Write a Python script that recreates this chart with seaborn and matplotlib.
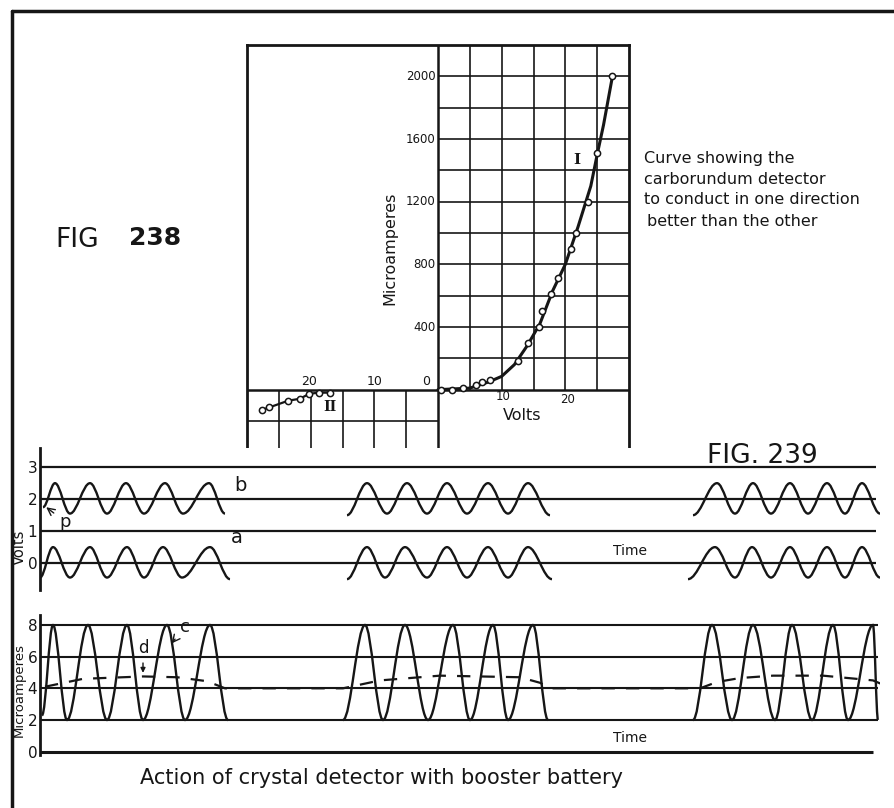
import matplotlib
matplotlib.use('Agg')
import matplotlib.pyplot as plt
import seaborn as sns
from matplotlib.path import Path
from matplotlib.patches import PathPatch
from matplotlib.lines import Line2D

# ---- Fig 238: carborundum detector characteristic ----
# curve I (forward), drawn line
curve1_volts = [0, 5, 8, 10, 12, 14, 16, 18, 20, 22, 24, 25, 26, 27.4]
curve1_amps = [0, 10, 50, 85, 160, 280, 420, 630, 800, 1040, 1300, 1500, 1690, 2000]
# measured points on curve I
pts1_volts = [0.4, 2.2, 3.9, 5.9, 6.9, 8.2, 12.5, 14.2, 15.9, 16.4, 17.7, 18.9, 20.9, 21.7, 23.5, 25.0, 27.4]
pts1_amps = [0, 0, 10, 30, 50, 60, 180, 300, 400, 500, 610, 710, 900, 1000, 1200, 1510, 2000]
# curve II (reverse)
curve2_volts = [-27.6, -26.5, -23.5, -21.7, -20.2, -18.7, -17.0]
curve2_amps = [-128, -113, -70, -58, -26, -19, -19]
amp_ticks = [400, 800, 1200, 1600, 2000]

# ---- Fig 239: booster battery waveforms (time in arbitrary units) ----
b_time = [[3, 15, 30, 50, 67, 86, 104, 125, 143, 169, 185],
          [307, 327, 347, 367, 387, 407, 427, 448, 468, 488, 510],
          [653, 677, 695, 713, 731, 750, 768, 787, 805, 822, 840]]
b_volts = [[1.75, 2.5, 1.55, 2.5, 1.55, 2.5, 1.55, 2.5, 1.55, 2.5, 1.55],
           [1.5, 2.5, 1.55, 2.5, 1.55, 2.5, 1.55, 2.5, 1.55, 2.5, 1.5],
           [1.5, 2.5, 1.55, 2.5, 1.55, 2.5, 1.55, 2.5, 1.55, 2.5, 1.55]]
a_time = [[0, 13, 30, 50, 67, 87, 104, 123, 142, 170, 190],
          [307, 327, 345, 365, 387, 407, 427, 448, 468, 488, 512],
          [648, 675, 695, 712, 731, 750, 768, 787, 805, 822, 840]]
a_volts = [[-0.45, 0.5, -0.45, 0.5, -0.45, 0.5, -0.45, 0.5, -0.45, 0.5, -0.5],
           [-0.5, 0.5, -0.45, 0.5, -0.45, 0.5, -0.45, 0.5, -0.45, 0.5, -0.5],
           [-0.5, 0.5, -0.45, 0.5, -0.45, 0.5, -0.45, 0.5, -0.45, 0.5, -0.45]]
c_time = [[2, 13, 27, 48, 67, 87, 103, 127, 145, 170, 188],
          [303, 325, 343, 365, 388, 413, 430, 453, 468, 493, 508],
          [653, 672, 692, 713, 735, 752, 772, 793, 808, 833, 838]]
c_amps = [[2.3, 8, 2, 8, 2, 8, 2, 8, 2, 8, 2],
          [2, 8, 2, 8, 2, 8, 2, 8, 2, 8, 2],
          [2, 8, 2, 8, 2, 8, 2, 8, 2, 8, 2]]
d_time = [5, 43, 103, 137, 167, 185, 303, 340, 400, 480, 500, 510,
          660, 677, 700, 733, 783, 833, 848]
d_amps = [4.1, 4.6, 4.75, 4.7, 4.45, 4.0, 4.0, 4.5, 4.8, 4.7, 4.35, 4.0,
          4.0, 4.4, 4.65, 4.8, 4.8, 4.5, 4.1]

note_lines = ['Curve showing the', 'carborundum detector',
              'to conduct in one direction', 'better than the other']

INK = '#161616'
W, H = 894, 808


def fx(x):
    return x / W


def fy(y):
    return 1 - y / H


def wave(ax, t, v, k=0.36, lw=1.7):
    # smooth hand-drawn style curve through the extreme points
    verts = [(t[0], v[0])]
    codes = [Path.MOVETO]
    for i in range(1, len(t)):
        dt = t[i] - t[i - 1]
        verts += [(t[i - 1] + k * dt, v[i - 1]), (t[i] - k * dt, v[i]), (t[i], v[i])]
        codes += [Path.CURVE4] * 3
    ax.add_patch(PathPatch(Path(verts, codes), fill=False, edgecolor=INK, lw=lw, zorder=4))


sns.set_style('white')
plt.rcParams['font.family'] = ['DejaVu Sans']

fig = plt.figure(figsize=(8.94, 8.08), dpi=100)

# outer frame of the plate
fig.add_artist(Line2D([fx(12), 1], [fy(11), fy(11)], color=INK, lw=2.5))
fig.add_artist(Line2D([fx(12), fx(12)], [fy(11), 0], color=INK, lw=2.5))

# ---------------- top chart ----------------
ax1 = fig.add_axes([fx(247), fy(450), 382 / W, 405 / H])
ax1.set_xlim(-30, 30)
ax1.set_ylim(-385, 2200)
ax1.set_xticks([])
ax1.set_yticks([])
for s in ax1.spines.values():
    s.set_linewidth(2)
    s.set_color(INK)

for v in range(5, 30, 5):
    ax1.vlines(v, 0, 2200, color=INK, lw=1.2)
for i in range(200, 2200, 200):
    ax1.hlines(i, 0, 30, color=INK, lw=1.2)
for v in range(-25, 0, 5):
    ax1.vlines(v, -385, 0, color=INK, lw=1.2)
ax1.hlines(-200, -30, 0, color=INK, lw=1.2)
ax1.hlines(0, -30, 30, color=INK, lw=1.8)
ax1.vlines(0, -385, 2200, color=INK, lw=1.8)

sns.lineplot(x=curve1_volts, y=curve1_amps, ax=ax1, color=INK, lw=2.2, sort=False, zorder=3)
sns.scatterplot(x=pts1_volts, y=pts1_amps, ax=ax1, s=20, color='white', edgecolor=INK,
                linewidth=1.1, zorder=4)
sns.lineplot(x=curve2_volts, y=curve2_amps, ax=ax1, color=INK, lw=1.6, sort=False, zorder=3)
sns.scatterplot(x=curve2_volts, y=curve2_amps, ax=ax1, s=20, color='white', edgecolor=INK,
                linewidth=1.1, zorder=4)

for a in amp_ticks:
    ax1.text(-0.4, a, str(a), ha='right', va='center', fontsize=8.5, color=INK)
ax1.text(-1.2, 55, '0', ha='right', va='center', fontsize=9, color=INK)
ax1.text(-20.3, 55, '20', ha='center', va='center', fontsize=9, color=INK)
ax1.text(-9.9, 55, '10', ha='center', va='center', fontsize=9, color=INK)
ax1.text(10.2, -45, '10', ha='center', va='center', fontsize=8.5, color=INK)
ax1.text(20.4, -60, '20', ha='center', va='center', fontsize=8.5, color=INK)
ax1.text(13.2, -165, 'Volts', ha='center', va='center', fontsize=11.5, color=INK)
ax1.text(-7.5, 900, 'Microamperes', ha='center', va='center', rotation=90,
         fontsize=11.5, color=INK)
ax1.text(21.8, 1466, 'I', ha='center', va='center', fontsize=11, color=INK,
         family=['DejaVu Serif'], fontweight='bold')
ax1.text(-17, -112, 'II', ha='center', va='center', fontsize=10, color=INK,
         family=['DejaVu Serif'], fontweight='bold')

# annotations of Fig 238
fig.text(fx(55), fy(240), 'FIG', ha='left', va='center', fontsize=19, color=INK)
fig.text(fx(129), fy(238), '238', ha='left', va='center', fontsize=18, color=INK,
         fontweight='bold')
for j, line in enumerate(note_lines):
    fig.text(fx(644 if j < 3 else 647), fy(158 + 21 * j), line, ha='left', va='center',
             fontsize=11.5, color=INK)

# ---------------- volts panel ----------------
ax2 = fig.add_axes([fx(40), fy(590), 840 / W, 142 / H])
ax2.set_xlim(0, 840)
ax2.set_ylim(-0.84, 3.6)
for side in ['top', 'right', 'bottom']:
    ax2.spines[side].set_visible(False)
ax2.spines['left'].set_linewidth(2)
ax2.spines['left'].set_color(INK)
ax2.set_xticks([])
ax2.set_yticks([0, 1, 2, 3])
ax2.tick_params(axis='y', length=0, labelsize=11, pad=2, labelcolor=INK)
ax2.hlines([0, 1, 2, 3], 0, 836, color=INK, lw=1.6)
for t, v in zip(b_time, b_volts):
    wave(ax2, t, v)
for t, v in zip(a_time, a_volts):
    wave(ax2, t, v)
ax2.text(200, 2.42, 'b', fontsize=14, ha='center', va='center', color=INK)
ax2.text(197, 0.8, 'a', fontsize=14, ha='center', va='center', color=INK)
ax2.annotate('p', xy=(4, 1.8), xytext=(25, 1.3), fontsize=13, ha='center', va='center',
             color=INK, arrowprops=dict(arrowstyle='->', lw=1, color=INK))
ax2.text(590, 0.38, 'Time', fontsize=10, ha='center', va='center', color=INK)
fig.text(fx(19), fy(547), 'Volts', rotation=90, ha='center', va='center', fontsize=10.5,
         color=INK)

# ---------------- current panel ----------------
ax3 = fig.add_axes([fx(40), fy(755), 840 / W, 140 / H])
ax3.set_xlim(0, 840)
ax3.set_ylim(-0.21, 8.63)
for side in ['top', 'right', 'bottom']:
    ax3.spines[side].set_visible(False)
ax3.spines['left'].set_linewidth(2)
ax3.spines['left'].set_color(INK)
ax3.set_xticks([])
ax3.set_yticks([0, 2, 4, 6, 8])
ax3.tick_params(axis='y', length=0, labelsize=11, pad=2, labelcolor=INK)
ax3.hlines([2, 4, 6, 8], 0, 838, color=INK, lw=1.5)
ax3.hlines(0, 0, 833, color=INK, lw=2.2)
for t, v in zip(c_time, c_amps):
    wave(ax3, t, v, lw=1.7)
sns.lineplot(x=d_time, y=d_amps, ax=ax3, color=INK, lw=1.6, sort=False,
             linestyle=(0, (6, 5)), zorder=3)
ax3.annotate('d', xy=(103, 4.8), xytext=(103, 6.55), fontsize=12, ha='center', va='center',
             color=INK, arrowprops=dict(arrowstyle='-|>', lw=1, color=INK, mutation_scale=7))
ax3.annotate('c', xy=(130, 6.7), xytext=(145, 7.9), fontsize=13, ha='center', va='center',
             color=INK, arrowprops=dict(arrowstyle='->', lw=1, color=INK))
ax3.text(590, 0.86, 'Time', fontsize=10, ha='center', va='center', color=INK)
fig.text(fx(19), fy(690), 'Microamperes', rotation=90, ha='center', va='center',
         fontsize=9.5, color=INK)

fig.text(fx(707), fy(456), 'FIG. 239', ha='left', va='center', fontsize=19, color=INK)
fig.text(fx(140), fy(778), 'Action of crystal detector with booster battery', ha='left',
         va='center', fontsize=15, color=INK)

fig.savefig('out.png', dpi=100, facecolor='white')
